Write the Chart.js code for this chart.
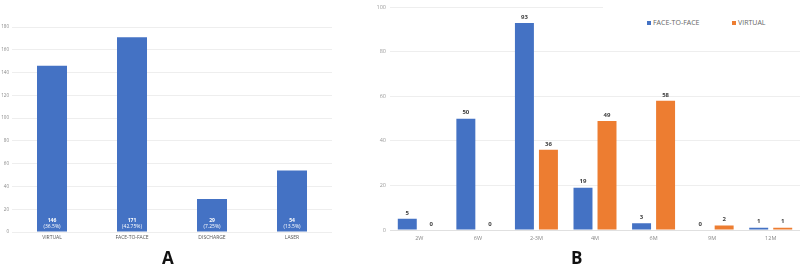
<!DOCTYPE html>
<html>
<head>
<meta charset="utf-8">
<script src="https://cdn.jsdelivr.net/npm/chart.js@4"></script>
<style>
  body { margin: 0; background: #fff; font-family: "Open Sans", sans-serif; }
  #wrap { position: relative; width: 800px; height: 270px; overflow: hidden; }
  #boxA { position: absolute; left: 0; top: 0; width: 340px; height: 270px; }
  #boxB { position: absolute; left: 370px; top: 0; width: 430px; height: 270px; }
  .panel { position: absolute; font-weight: bold; font-size: 17px; color: #111; }
  #legendB { position: absolute; left: 603px; top: 0; width: 197px; height: 44px; background: #fff;
             font-size: 7px; color: #666; }
  #legendB span { position: absolute; top: 18px; white-space: nowrap; }
  #legendB i { display: inline-block; width: 4px; height: 4px; margin-right: 2px; vertical-align: 0; }
</style>
</head>
<body>
<div id="wrap">
  <div id="boxA"><canvas id="chartA"></canvas></div>
  <div id="boxB"><canvas id="chartB"></canvas></div>
  <div id="legendB">
    <span style="left:44px"><i style="background:#4472C4"></i>FACE-TO-FACE</span>
    <span style="left:129px"><i style="background:#ED7D31"></i>VIRTUAL</span>
  </div>
  <div class="panel" style="left:162px; top:246px">A</div>
  <div class="panel" style="left:571px; top:246px">B</div>
</div>
<script>
// panel A
const typesA = ["VIRTUAL", "FACE-TO-FACE", "DISCHARGE", "LASER"];
const countsA = [146, 171, 29, 54];
const percentA = ["(36.5%)", "(42.75%)", "(7.25%)", "(13.5%)"];
const ticksA = [0, 20, 40, 60, 80, 100, 120, 140, 160, 180];

// panel B
const periodsB = ["2W", "6W", "2-3M", "4M", "6M", "9M", "12M"];
const faceB = [5, 50, 93, 19, 3, 0, 1];
const virtualB = [0, 0, 36, 49, 58, 2, 1];
const ticksB = [0, 20, 40, 60, 80, 100];

const BLUE = "#4472C4";
const ORANGE = "#ED7D31";
const FONT = "'Open Sans', sans-serif";

Chart.defaults.animation = false;
Chart.defaults.font.family = FONT;

const insideLabels = {
  id: "insideLabels",
  afterDatasetsDraw(chart) {
    const { ctx } = chart;
    const bottom = chart.scales.y.bottom;
    chart.getDatasetMeta(0).data.forEach((bar, i) => {
      ctx.save();
      ctx.fillStyle = "#fff";
      ctx.textAlign = "center";
      ctx.textBaseline = "middle";
      ctx.font = "bold 5px " + FONT;
      ctx.fillText(countsA[i], bar.x, bottom - 11);
      ctx.font = "5px " + FONT;
      ctx.fillText(percentA[i], bar.x, bottom - 5);
      ctx.restore();
    });
  }
};

const topLabels = {
  id: "topLabels",
  afterDatasetsDraw(chart) {
    const { ctx } = chart;
    ctx.save();
    ctx.fillStyle = "#404040";
    ctx.textAlign = "center";
    ctx.textBaseline = "middle";
    ctx.font = "bold 6px " + FONT;
    chart.data.datasets.forEach((ds, d) => {
      chart.getDatasetMeta(d).data.forEach((bar, i) => {
        ctx.fillText(ds.data[i], bar.x, bar.y - 6);
      });
    });
    ctx.restore();
  }
};

new Chart(document.getElementById("chartA"), {
  type: "bar",
  data: {
    labels: typesA,
    datasets: [{
      data: countsA,
      backgroundColor: BLUE,
      barPercentage: 0.375,
      categoryPercentage: 1
    }]
  },
  options: {
    responsive: true,
    maintainAspectRatio: false,
    layout: { padding: { left: 0, right: 8, top: 27, bottom: 0 } },
    plugins: { legend: { display: false }, tooltip: { enabled: false } },
    scales: {
      x: {
        grid: { display: false, tickLength: 2 },
        border: { display: false },
        ticks: { color: "#555", font: { size: 5 }, padding: 1, maxRotation: 0, autoSkip: false },
        afterFit(s) { s.height = 38; }
      },
      y: {
        min: 0, max: 180,
        afterBuildTicks(s) { s.ticks = ticksA.map(v => ({ value: v })); },
        grid: { color: "#eeeeee", drawTicks: false },
        border: { display: false },
        ticks: { color: "#888", font: { size: 4.5 }, padding: 3 },
        afterFit(s) { s.width = 12; }
      }
    }
  },
  plugins: [insideLabels]
});

new Chart(document.getElementById("chartB"), {
  type: "bar",
  data: {
    labels: periodsB,
    datasets: [
      { label: "FACE-TO-FACE", data: faceB, backgroundColor: BLUE },
      { label: "VIRTUAL", data: virtualB, backgroundColor: ORANGE }
    ]
  },
  options: {
    responsive: true,
    maintainAspectRatio: false,
    layout: { padding: { left: 0, right: 0, top: 2, bottom: 0 } },
    datasets: { bar: { barPercentage: 0.79, categoryPercentage: 0.82 } },
    plugins: { legend: { display: false }, tooltip: { enabled: false } },
    scales: {
      x: {
        grid: { display: false, tickLength: 4 },
        border: { color: "#e0e0e0" },
        ticks: { color: "#888", font: { size: 5.5 }, padding: 1, maxRotation: 0, autoSkip: false },
        afterFit(s) { s.height = 40; }
      },
      y: {
        min: 0, max: 100,
        afterBuildTicks(s) { s.ticks = ticksB.map(v => ({ value: v })); },
        grid: { color: "#eeeeee", drawTicks: false },
        border: { display: false },
        ticks: { color: "#999", font: { size: 5.5 }, padding: 4 },
        afterFit(s) { s.width = 20; }
      }
    }
  },
  plugins: [topLabels]
});
</script>
</body>
</html>
